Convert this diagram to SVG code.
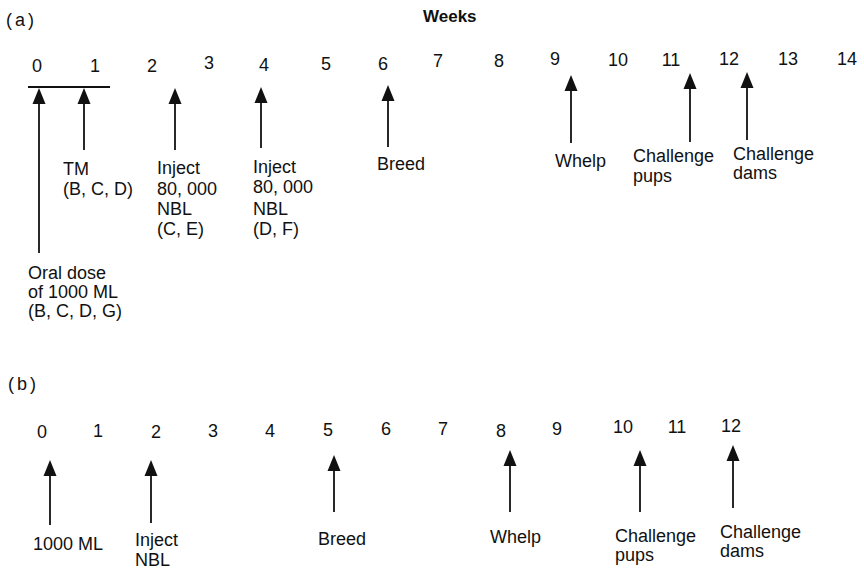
<svg xmlns="http://www.w3.org/2000/svg" width="864" height="569" viewBox="0 0 864 569">
  <style>
    .t { font-family: "Liberation Sans", Arial, sans-serif; font-size: 18px; fill: #111; }
    .n { font-family: "Liberation Sans", Arial, sans-serif; font-size: 18px; fill: #111; text-anchor: middle; }
    .p { font-family: "Liberation Sans", Arial, sans-serif; font-size: 18px; fill: #111; letter-spacing: 3px; }
    .h { font-family: "Liberation Sans", Arial, sans-serif; font-size: 17px; font-weight: bold; fill: #111; }
    .shaft { stroke: #111; stroke-width: 1.8; fill: none; }
    .head { fill: #111; }
  </style>
  <defs>
    <!-- upward arrowhead, tip at origin -->
    <polygon id="up" class="head" points="0,0 -6.5,16 6.5,16"/>
  </defs>
  <rect width="864" height="569" fill="#fff"/>

  <!-- panel (a) -->
  <g id="panel-a">
    <text class="p" x="6" y="26">(a)</text>
    <text class="h" x="423" y="22">Weeks</text>
    <g id="weeks-a">
      <text class="n" x="37" y="72">0</text>
      <text class="n" x="95" y="72">1</text>
      <text class="n" x="152" y="72">2</text>
      <text class="n" x="209" y="69">3</text>
      <text class="n" x="264" y="71">4</text>
      <text class="n" x="326" y="70">5</text>
      <text class="n" x="383" y="70">6</text>
      <text class="n" x="438" y="67">7</text>
      <text class="n" x="499" y="67">8</text>
      <text class="n" x="555" y="65">9</text>
      <text class="n" x="618" y="66">10</text>
      <text class="n" x="671" y="66">11</text>
      <text class="n" x="729" y="65">12</text>
      <text class="n" x="788" y="65">13</text>
      <text class="n" x="847" y="65">14</text>
    </g>
  </g>

  <g id="connectors">
    <!-- bar spanning weeks 0-1 -->
    <line class="shaft" x1="28" y1="87" x2="110" y2="87"/>
    <!-- panel (a) arrows -->
    <line class="shaft" x1="39" y1="100" x2="39" y2="253"/><use href="#up" x="39" y="88"/>
    <line class="shaft" x1="84" y1="100" x2="84" y2="150"/><use href="#up" x="84" y="88"/>
    <line class="shaft" x1="175" y1="100" x2="175" y2="150"/><use href="#up" x="175" y="88"/>
    <line class="shaft" x1="261" y1="100" x2="261" y2="148"/><use href="#up" x="261" y="87"/>
    <line class="shaft" x1="388" y1="98" x2="388" y2="147"/><use href="#up" x="388" y="85"/>
    <line class="shaft" x1="571" y1="88" x2="571" y2="143"/><use href="#up" x="571" y="75"/>
    <line class="shaft" x1="690" y1="86" x2="690" y2="142"/><use href="#up" x="690" y="73"/>
    <line class="shaft" x1="747" y1="85" x2="747" y2="140"/><use href="#up" x="747" y="72"/>
    <!-- panel (b) arrows -->
    <line class="shaft" x1="50" y1="473" x2="50" y2="525"/><use href="#up" x="50" y="460"/>
    <line class="shaft" x1="151" y1="473" x2="151" y2="523"/><use href="#up" x="151" y="460"/>
    <line class="shaft" x1="334" y1="468" x2="334" y2="512"/><use href="#up" x="334" y="455"/>
    <line class="shaft" x1="510" y1="463" x2="510" y2="512"/><use href="#up" x="510" y="450"/>
    <line class="shaft" x1="640" y1="463" x2="640" y2="512"/><use href="#up" x="640" y="450"/>
    <line class="shaft" x1="733" y1="458" x2="733" y2="508"/><use href="#up" x="733" y="445"/>
  </g>

  <!-- panel (a) event labels -->
  <g id="a-oral-dose">
    <text class="t" x="28" y="279">Oral dose</text>
    <text class="t" x="28" y="298">of 1000 ML</text>
    <text class="t" x="28" y="317">(B, C, D, G)</text>
  </g>
  <g id="a-tm">
    <text class="t" x="63" y="175">TM</text>
    <text class="t" x="63" y="195">(B, C, D)</text>
  </g>
  <g id="a-inject-2">
    <text class="t" x="157" y="174">Inject</text>
    <text class="t" x="157" y="195">80, 000</text>
    <text class="t" x="157" y="215">NBL</text>
    <text class="t" x="157" y="235">(C, E)</text>
  </g>
  <g id="a-inject-4">
    <text class="t" x="253" y="173">Inject</text>
    <text class="t" x="253" y="193">80, 000</text>
    <text class="t" x="253" y="215">NBL</text>
    <text class="t" x="253" y="235">(D, F)</text>
  </g>
  <g id="a-breed"><text class="t" x="377" y="170">Breed</text></g>
  <g id="a-whelp"><text class="t" x="555" y="167">Whelp</text></g>
  <g id="a-challenge-pups">
    <text class="t" x="633" y="162">Challenge</text>
    <text class="t" x="633" y="182">pups</text>
  </g>
  <g id="a-challenge-dams">
    <text class="t" x="733" y="160">Challenge</text>
    <text class="t" x="733" y="179">dams</text>
  </g>

  <!-- panel (b) -->
  <g id="panel-b">
    <text class="p" x="8" y="390">(b)</text>
    <g id="weeks-b">
      <text class="n" x="42" y="438">0</text>
      <text class="n" x="98" y="437">1</text>
      <text class="n" x="156" y="438">2</text>
      <text class="n" x="213" y="437">3</text>
      <text class="n" x="270" y="437">4</text>
      <text class="n" x="328" y="436">5</text>
      <text class="n" x="386" y="435">6</text>
      <text class="n" x="443" y="435">7</text>
      <text class="n" x="501" y="437">8</text>
      <text class="n" x="557" y="435">9</text>
      <text class="n" x="623" y="433">10</text>
      <text class="n" x="677" y="433">11</text>
      <text class="n" x="731" y="432">12</text>
    </g>
  </g>
  <g id="b-dose"><text class="t" x="33" y="550">1000 ML</text></g>
  <g id="b-inject">
    <text class="t" x="135" y="546">Inject</text>
    <text class="t" x="135" y="566">NBL</text>
  </g>
  <g id="b-breed"><text class="t" x="318" y="545">Breed</text></g>
  <g id="b-whelp"><text class="t" x="490" y="543">Whelp</text></g>
  <g id="b-challenge-pups">
    <text class="t" x="615" y="542">Challenge</text>
    <text class="t" x="615" y="561">pups</text>
  </g>
  <g id="b-challenge-dams">
    <text class="t" x="720" y="538">Challenge</text>
    <text class="t" x="720" y="557">dams</text>
  </g>
</svg>
